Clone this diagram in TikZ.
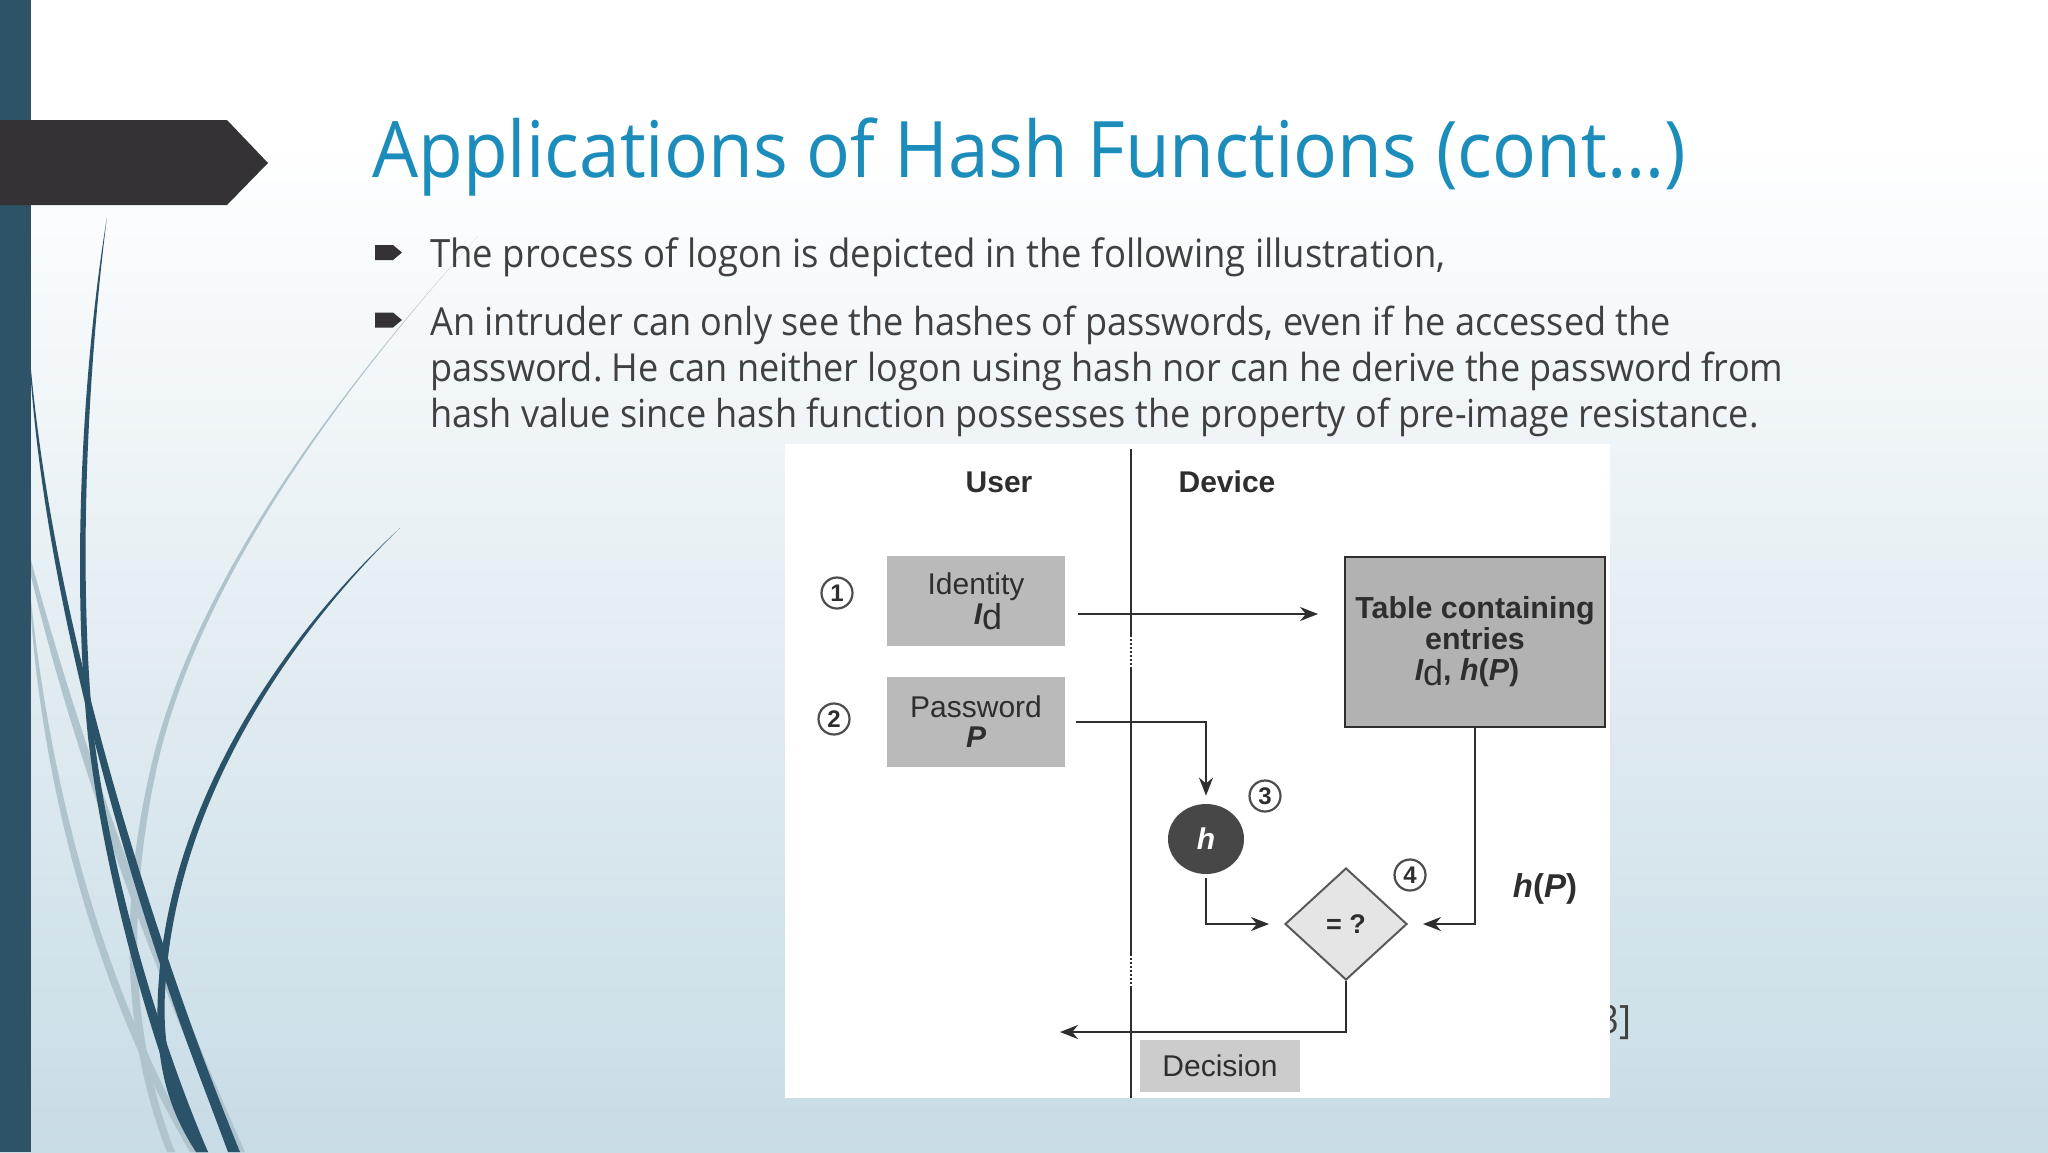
\documentclass[tikz,border=0pt]{standalone}
\usepackage{fontspec}
\setmainfont[FakeStretch=0.935]{Open Sans}
\newfontfamily\figfont{Liberation Sans}
\usetikzlibrary{arrows.meta, positioning, shapes.geometric}
\frenchspacing

\definecolor{bgmid}{HTML}{E3EDF2}
\definecolor{bgend}{HTML}{C8DCE6}
\definecolor{barblue}{HTML}{2E5367}
\definecolor{ribbonblue}{HTML}{2A5268}
\definecolor{ribbongray}{HTML}{B0C4CE}
\definecolor{tagdark}{HTML}{343234}
\definecolor{titleblue}{HTML}{1C8DBB}
\definecolor{bodygray}{HTML}{404040}
\definecolor{figink}{HTML}{2E2E2E}

\tikzset{
    bodyline/.style = {anchor=base west, inner sep=0pt, text=bodygray, font=\fontsize{#1}{22}\selectfont},
    bodyline/.default = 19.3,
    graybox/.style = {fill=#1, inner sep=0pt, align=center, text=figink, font=\figfont\fontsize{15}{15}\selectfont},
    headlabel/.style = {inner sep=0pt, text=figink, font=\figfont\bfseries\fontsize{15}{16}\selectfont},
    stepmark/.style = {circle, draw=figink!85, line width=1.1pt, inner sep=0pt, minimum size=15.5pt, text=figink, font=\figfont\bfseries\fontsize{12}{12}\selectfont},
    flowline/.style = {-{Stealth[length=9pt, width=7pt]}, line width=1pt, draw=figink},
}
\newcommand{\idmark}{{\bfseries\itshape I}\raisebox{-2.5pt}{\fontsize{18}{18}\selectfont\mdseries\upshape d}}

\begin{document}
\begin{tikzpicture}[x=0.5pt, y=-0.5pt]
    \useasboundingbox (0,0) rectangle (2048,1152);

    % slide background
    \shade[top color=white, bottom color=white] (0,0) rectangle (2048,140);
    \shade[top color=white, bottom color=bgmid] (0,139) rectangle (2048,640);
    \shade[top color=bgmid, bottom color=bgend] (0,639) rectangle (2048,1152);

    % ribbons on the left
    \fill[ribbongray] (478,236) .. controls (330,400) and (190,590) .. (150,771) .. controls (125,880) and (115,1020) .. (167,1152)
        -- (175,1152) .. controls (123,1020) and (133,880) .. (156,771) .. controls (194,592) and (331,400) .. (478,236) -- cycle;
    \fill[ribbongray] (31,576) .. controls (75,760) and (150,960) .. (233,1152)
        -- (245,1152) .. controls (160,960) and (85,760) .. (31,560) -- cycle;
    \fill[ribbongray] (31,617) .. controls (45,800) and (100,1000) .. (190,1152)
        -- (199,1152) .. controls (108,1000) and (52,800) .. (31,600) -- cycle;
    \fill[ribbonblue] (107,217) .. controls (85,350) and (70,560) .. (88,737) .. controls (105,880) and (150,1040) .. (196,1152)
        -- (208,1152) .. controls (160,1040) and (112,880) .. (94,737) .. controls (76,560) and (90,350) .. (107,217) -- cycle;
    \fill[ribbonblue] (31,382) .. controls (45,560) and (95,770) .. (165,979) .. controls (185,1040) and (205,1090) .. (228,1152)
        -- (240,1152) .. controls (215,1090) and (196,1040) .. (175,979) .. controls (103,770) and (49,560) .. (31,370) -- cycle;
    \fill[ribbonblue] (400,528) .. controls (305,620) and (175,790) .. (165,993) .. controls (161,1070) and (185,1115) .. (208,1152)
        -- (196,1152) .. controls (172,1115) and (154,1070) .. (158,993) .. controls (168,788) and (302,618) .. (400,528) -- cycle;

    % bar and tag
    \fill[barblue] (0,0) rectangle (31,1152);
    \fill[tagdark] (0,120) -- (227,120) -- (268,163) -- (227,205) -- (0,205) -- cycle;

    % title and bullets
    \node (slidetitle) [anchor=base west, inner sep=0pt, text=titleblue, font=\fontsize{39}{44}\selectfont] at (372,177) {Applications of Hash Functions (cont…)};
    \foreach \y in {252.5, 320}
        \fill[tagdark] (375,\y-7.5) -- (393,\y-7.5) -- (402,\y) -- (393,\y+7.5) -- (375,\y+7.5) -- cycle;
    \node (lineone) [bodyline=19.5] at (430,267) {The process of logon is depicted in the following illustration,};
    \node (linetwo) [bodyline] at (430,335) {An intruder can only see the hashes of passwords, even if he accessed the};
    \node (linethree) [bodyline] at (430,381) {password. He can neither logon using hash nor can he derive the password from};
    \node (linefour) [bodyline] at (430,427) {hash value since hash function possesses the property of pre-image resistance.};

    % text hidden behind the figure
    \node (refmark) [anchor=base east, inner sep=0pt, text=bodygray, font=\fontsize{19.5}{22}\selectfont] at (1632,1033) {3]};

    % figure
    \fill[white] (785,444) rectangle (1610,1098);
    \coordinate (axistop) at (1131,449);
    \coordinate (axisbottom) at (1131,1098);
    \draw[line width=1pt, figink] (axistop) -- (axisbottom);
    \foreach \y in {652, 971}
        \draw[white, line width=2pt, dash pattern=on 1pt off 1pt] (1131,\y-15) -- (1131,\y+15);

    \node (userhead) [headlabel] at (999,482) {User};
    \node (devicehead) [headlabel] at (1227,482) {Device};

    \node (identity) [graybox=black!27, minimum width=89pt, minimum height=45pt] at (976,601) {Identity\\\hspace*{12pt}\idmark};
    \node (password) [graybox=black!27, minimum width=89pt, minimum height=45pt, below=15pt of identity] {Password\\{\bfseries\itshape P}};
    \node (entries) [graybox=black!30, draw=figink, line width=1pt, minimum width=130pt, minimum height=85pt,
        font=\figfont\bfseries\fontsize{15.2}{15.5}\selectfont] at (1475,642) {Table containing\\entries\\\idmark{\bfseries, \itshape h}(\textit{P})\hspace*{8pt}};
    \node (hash) [ellipse, fill=black!72, inner sep=0pt, minimum width=38pt, minimum height=35pt,
        text=white, font=\figfont\bfseries\itshape\fontsize{15}{16}\selectfont] at (1206,839) {h};
    \node (verify) [diamond, fill=black!10, draw=black!65, line width=1pt, inner sep=0pt, minimum width=61pt, minimum height=56pt,
        text=figink, font=\figfont\bfseries\fontsize{13.5}{14}\selectfont] at (1346,924) {= ?};
    \node (decision) [graybox=black!20, minimum width=80pt, minimum height=26pt] at (1220,1066) {Decision};
    \node (hplabel) [inner sep=0pt, text=figink, font=\figfont\bfseries\fontsize{16.5}{16}\selectfont] at (1545,889) {\textit{h}(\textit{P})};

    \node (stepone) [stepmark] at (837,593) {1};
    \node (steptwo) [stepmark] at (834,719) {2};
    \node (stepthree) [stepmark] at (1265,796) {3};
    \node (stepfour) [stepmark] at (1410,875) {4};

    \coordinate (identityout) at (1078,614);
    \coordinate (entriesin) at (1318,614);
    \coordinate (resultout) at (1060,1032);
    \draw[flowline] (identityout) -- (entriesin);
    \draw[flowline, shorten <=5.5pt, shorten >=4pt] (password.east) -| (hash.north);
    \draw[flowline, shorten <=2pt, shorten >=7.5pt] (hash.south) |- (verify.west);
    \draw[flowline, shorten >=7.5pt] (entries.south) |- (verify.east);
    \draw[flowline] (verify.south) |- (resultout);
\end{tikzpicture}
\end{document}
